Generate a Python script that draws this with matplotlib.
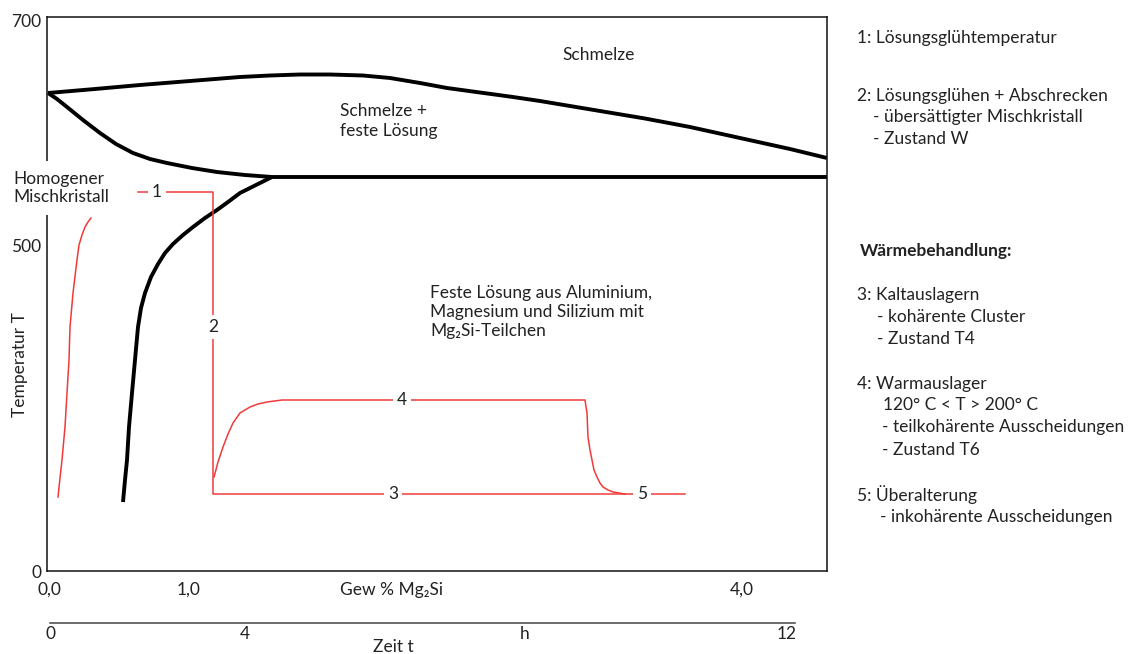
import numpy as np
import matplotlib
matplotlib.use("Agg")
import matplotlib.pyplot as plt

plt.rcParams['font.family'] = ['Lato', 'DejaVu Sans']
TXT = '#222222'
RED = '#f03a3a'
FS = 12.5

# schematic phase diagram, coordinates in diagram units (x: 0-780, y: 0-554)
liq_x = [1, 48, 93, 143, 193, 223, 253, 283, 316, 343, 373, 400, 433, 466,
         493, 523, 553, 598, 643, 693, 743, 780]
liq_y = [478, 482, 486, 490, 494, 495.5, 496.5, 496.5, 495.5, 493, 488, 483,
         478.5, 474, 470, 465, 460, 452.5, 444, 433, 422, 413]

sol_x = [1, 10, 20, 36, 53, 69, 86, 103, 120, 145, 170, 198, 225, 780]
sol_y = [478, 472, 464, 451, 438, 427, 418, 412, 408, 403, 399, 396, 394, 394]

solvus_x = [76, 78, 80, 82, 85, 88, 91, 94, 98, 104, 111, 118, 126, 136, 146,
            158, 170, 181, 193, 209, 225]
solvus_y = [69, 91, 111, 144, 178, 211, 244, 263, 278, 294, 307, 318, 327, 336,
            344, 353, 361, 369, 378, 386, 394]

# heat treatment paths
heat_x = [11, 13, 15, 18, 20, 22, 23, 26, 30, 32, 35, 38, 41, 44]
heat_y = [74, 93, 111, 144, 178, 211, 244, 278, 311, 326, 336, 344, 349, 353]

quench_x = [91, 166, 166, 638]
quench_y = [379, 379, 77, 77]

age_x = [167, 171, 176, 181, 186, 193, 198, 203, 211, 220, 235, 538, 540, 541,
         543, 545, 547, 550, 553, 556, 561, 566, 578]
age_y = [94, 109, 124, 137, 148, 158, 161, 164, 167, 169, 171, 171, 158, 134,
         121, 111, 101, 94, 88, 84, 81, 79, 77]

step_labels = ['1', '2', '3', '4', '5']
step_pos = [(110, 379), (166, 244), (346, 77), (355, 171), (595, 77)]

x_ticks = [2, 142, 344, 695]
x_labels = ['0,0', '1,0', 'Gew % Mg₂Si', '4,0']
y_ticks = [0, 326, 551]
y_labels = ['0', '500', '700']
t_ticks = [0, 195, 475, 737]
t_labels = ['0', '4', 'h', '12']

notes = [
    (857, 38, '1: Lösungsglühtemperatur', 'normal'),
    (857, 96, '2: Lösungsglühen + Abschrecken', 'normal'),
    (873, 117, '- übersättigter Mischkristall', 'normal'),
    (873, 139, '- Zustand W', 'normal'),
    (860, 251, 'Wärmebehandlung:', 'bold'),
    (857, 295, '3: Kaltauslagern', 'normal'),
    (877, 317, '- kohärente Cluster', 'normal'),
    (877, 339, '- Zustand T4', 'normal'),
    (857, 384, '4: Warmauslager', 'normal'),
    (883, 405, '120° C < T > 200° C', 'normal'),
    (882, 427, '- teilkohärente Ausscheidungen', 'normal'),
    (882, 450, '- Zustand T6', 'normal'),
    (857, 495, '5: Überalterung', 'normal'),
    (880, 517, '- inkohärente Ausscheidungen', 'normal'),
]

W, H = 1135, 654
fig = plt.figure(figsize=(W / 100, H / 100), dpi=100)
ax = fig.add_axes([47 / W, 83 / H, 780 / W, 554 / H])
ax.set_xlim(0, 780)
ax.set_ylim(0, 554)

for s in ax.spines.values():
    s.set_linewidth(1.1)
    s.set_color('#111111')

ax.plot(liq_x, liq_y, color='black', lw=2.8, solid_capstyle='butt', solid_joinstyle='round')
ax.plot(sol_x, sol_y, color='black', lw=2.8, solid_capstyle='butt', solid_joinstyle='round')
ax.plot(solvus_x, solvus_y, color='black', lw=2.8, solid_capstyle='butt', solid_joinstyle='round')

ax.plot(heat_x, heat_y, color=RED, lw=1.1)
ax.plot(quench_x, quench_y, color=RED, lw=1.1)
ax.plot(age_x, age_y, color=RED, lw=1.1)

for lab, (px, py) in zip(step_labels, step_pos):
    ax.text(px, py, lab, ha='center', va='center', fontsize=FS, color=TXT,
            bbox=dict(fc='white', ec='none', pad=3), zorder=5)

ax.text(552, 516, 'Schmelze', ha='center', va='center', fontsize=FS, color=TXT)
ax.text(293, 450, 'Schmelze +\nfeste Lösung', ha='left', va='center',
        fontsize=FS, color=TXT, linespacing=1.25)
ax.text(383, 259, 'Feste Lösung aus Aluminium,\nMagnesium und Silizium mit\nMg₂Si-Teilchen',
        ha='left', va='center', fontsize=FS, color=TXT, linespacing=1.25)
ax.text(-27, 206, 'Temperatur T', rotation=90, ha='center', va='center',
        fontsize=FS, color=TXT)

ax.set_xticks(x_ticks)
ax.set_xticklabels(x_labels)
ax.set_yticks(y_ticks)
ax.set_yticklabels(y_labels)
ax.tick_params(axis='x', length=0, pad=8, labelsize=FS, labelcolor=TXT)
ax.tick_params(axis='y', length=0, pad=4, labelsize=FS, labelcolor=TXT)

# time axis below
tax = fig.add_axes([50 / W, (H - 623) / H, 745 / W, 0.0001])
tax.set_xlim(0, 745)
for k in ['left', 'right', 'top']:
    tax.spines[k].set_visible(False)
tax.spines['bottom'].set_color('#444444')
tax.spines['bottom'].set_linewidth(1.1)
tax.set_yticks([])
tax.set_xticks(t_ticks)
tax.set_xticklabels(t_labels)
tax.tick_params(axis='x', length=0, pad=2, labelsize=FS, labelcolor=TXT)
fig.text(393 / W, 1 - 647 / H, 'Zeit t', ha='center', va='center', fontsize=FS, color=TXT)

fig.text(13 / W, 1 - 188 / H, 'Homogener\nMischkristall', ha='left', va='center',
         fontsize=FS, color=TXT, linespacing=1.2,
         bbox=dict(fc='white', ec='none', pad=7), zorder=10)

for nx, ny, t, wgt in notes:
    fig.text(nx / W, 1 - ny / H, t, ha='left', va='center', fontsize=FS,
             color=TXT, fontweight=wgt)

fig.savefig('out.png', dpi=100)
